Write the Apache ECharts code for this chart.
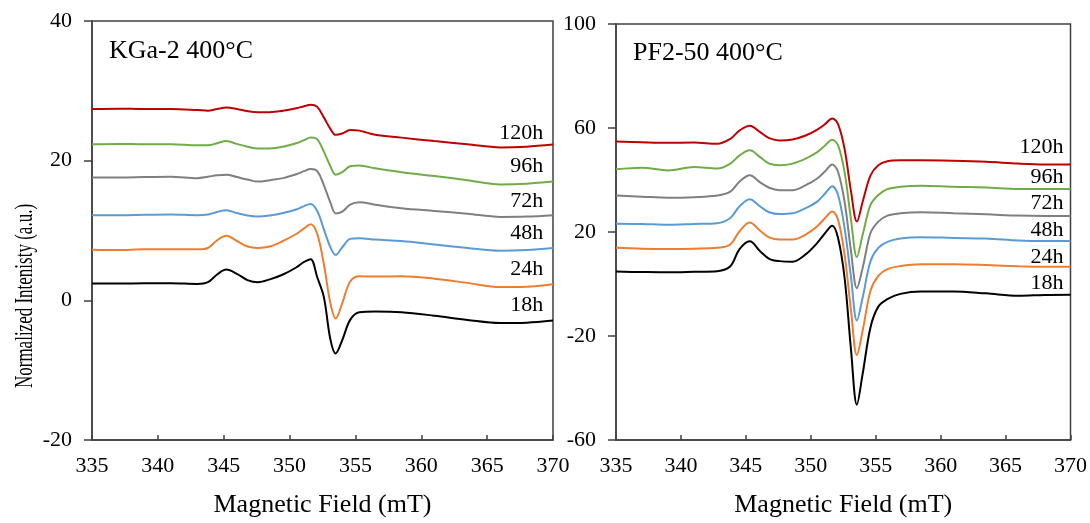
<!DOCTYPE html>
<html>
<head>
<meta charset="utf-8">
<script src="https://cdn.jsdelivr.net/npm/echarts@6/dist/echarts.min.js"></script>
<style>
  html, body { margin: 0; padding: 0; background: #fff; }
  #main { width: 1090px; height: 523px; }
</style>
</head>
<body>
<div id="main"></div>
<script>
// magnetic field (mT) sample points
var fieldL = [335, 337, 339, 341, 343, 343.8, 344.5, 345.2, 346, 346.8, 347.6, 348.5, 349.5, 350.5, 351.1, 351.6,
              352.1, 352.6, 353.1, 353.5, 354, 354.6, 355.3, 356.5, 358.5, 361, 363.5, 366, 368, 370];
var fieldR = [335, 337, 339, 341, 342.8, 343.8, 344.5, 345.3, 346.1, 346.8, 347.6, 348.6, 349.6, 350.5, 351.1, 351.65,
              352.1, 352.6, 353.1, 353.55, 354, 354.6, 355.2, 355.9, 356.9, 358.5, 361, 363.5, 366, 368, 370];

var times = ['18h', '24h', '48h', '72h', '96h', '120h'];

// KGa-2 400°C
var kga18  = [2.4, 2.4, 2.45, 2.45, 2.35, 2.6, 3.7, 4.4, 3.8, 2.9, 2.6, 3.0, 3.7, 4.7, 5.5, 5.9,
              3.3, 0.5, -5.6, -7.6, -5.7, -2.8, -1.7, -1.6, -1.7, -2.2, -2.8, -3.25, -3.2, -2.9];
var kga24  = [7.25, 7.2, 7.3, 7.3, 7.3, 7.5, 8.6, 9.25, 8.5, 7.7, 7.5, 7.7, 8.5, 9.5, 10.3, 10.9,
              9.5, 5.2, -0.4, -2.6, -0.4, 2.7, 3.45, 3.4, 3.45, 3.1, 2.5, 1.9, 1.95, 2.3];
var kga48  = [12.2, 12.2, 12.25, 12.3, 12.2, 12.3, 12.65, 12.9, 12.5, 12.15, 12.0, 12.15, 12.5, 13.0, 13.5, 13.8,
              12.8, 10.2, 7.6, 6.5, 7.6, 8.8, 8.9, 8.7, 8.5, 8.0, 7.5, 7.1, 7.2, 7.5];
var kga72  = [17.6, 17.6, 17.65, 17.7, 17.5, 17.7, 17.9, 18.0, 17.65, 17.3, 17.0, 17.2, 17.5, 18.05, 18.5, 18.8,
              18.5, 16.5, 14.0, 12.45, 12.7, 13.7, 14.05, 13.7, 13.2, 12.8, 12.4, 11.95, 12.0, 12.2];
var kga96  = [22.35, 22.4, 22.35, 22.35, 22.2, 22.2, 22.5, 22.8, 22.4, 22.0, 21.75, 21.75, 22.0, 22.5, 22.95, 23.3,
              23.05, 21.3, 19.2, 18.0, 18.35, 19.2, 19.3, 18.9, 18.35, 17.8, 17.2, 16.6, 16.7, 17.0];
var kga120 = [27.4, 27.45, 27.4, 27.4, 27.25, 27.15, 27.4, 27.6, 27.4, 27.1, 26.95, 26.95, 27.15, 27.5, 27.8, 28.0,
              27.7, 26.2, 24.55, 23.7, 23.9, 24.4, 24.3, 23.7, 23.3, 22.8, 22.35, 21.9, 22.0, 22.3];

// PF2-50 400°C
var pf18  = [4.76, 4.6, 4.5, 4.7, 4.95, 6.8, 13.3, 16.4, 12.6, 9.7, 8.8, 8.6, 11.4, 15.8, 19.6, 22.4,
             17.7, 2.5, -25.4, -46.4, -34.4, -16.6, -8.7, -5.8, -3.8, -2.9, -2.9, -3.6, -4.5, -4.2, -4.1];
var pf24  = [13.9, 13.6, 13.5, 13.6, 13.9, 15.2, 20.2, 23.7, 20.5, 17.9, 17.1, 17.1, 19.0, 22.2, 25.4, 27.9,
             24.7, 11.4, -10.2, -27.3, -17.8, -2.6, 3.1, 5.7, 6.9, 7.6, 7.6, 7.3, 6.8, 6.6, 6.6];
var pf48  = [23.2, 23.1, 22.8, 23.1, 23.4, 25.4, 29.8, 32.6, 29.8, 27.6, 26.9, 27.2, 29.2, 31.7, 34.8, 37.6,
             34.2, 21.5, 2.5, -14.0, -5.1, 8.8, 13.9, 16.2, 17.5, 18.0, 17.7, 17.5, 16.7, 16.5, 16.5];
var pf72  = [34.0, 33.6, 33.2, 33.4, 34.0, 35.5, 39.3, 41.8, 39.1, 37.0, 36.1, 36.1, 38.0, 40.6, 43.4, 46.0,
             43.1, 31.7, 12.6, -1.6, 6.3, 19.6, 24.0, 26.3, 27.2, 27.6, 27.2, 26.8, 26.3, 26.2, 26.2];
var pf96  = [44.1, 44.7, 43.7, 45.0, 44.4, 46.3, 49.4, 51.4, 48.8, 46.3, 45.7, 46.3, 48.2, 50.7, 53.3, 55.5,
             53.3, 43.1, 24.7, 10.4, 19.0, 30.4, 34.2, 36.5, 37.4, 37.8, 37.4, 37.1, 36.5, 36.5, 36.5];
var pf120 = [54.8, 54.5, 54.3, 54.4, 53.9, 55.8, 59.0, 60.9, 58.4, 56.1, 55.2, 55.6, 57.1, 59.4, 61.5, 63.7,
             61.5, 52.0, 35.5, 24.0, 31.7, 41.8, 45.7, 47.2, 47.6, 47.6, 47.4, 47.0, 46.3, 46.0, 46.0];

// tick labels
var xTicks = [335, 340, 345, 350, 355, 360, 365, 370];
var yTicksL = [-20, 0, 20, 40];
var yTicksR = [-60, -20, 20, 60, 100];

// where the time labels sit (data coords)
var labelXL = 369.3, labelYL = [-0.65, 4.4, 9.6, 14.2, 19.2, 24.0];
var labelXR = 369.5, labelYR = [0.3, 10.4, 20.6, 31.0, 41.2, 52.6];

var colors = ['#000000', '#ED7D31', '#5B9BD5', '#7F7F7F', '#70AD47', '#C00000'];
var FONT = 'Liberation Serif';
var AXIS = '#404040';

function pairs(xs, ys) {
    var out = [];
    for (var i = 0; i < xs.length; i++) out.push([xs[i], ys[i]]);
    return out;
}

function makeSeries(idx, xs, sets, lx, ly) {
    var list = [];
    for (var i = 0; i < sets.length; i++) {
        list.push({
            name: times[i],
            type: 'line',
            xAxisIndex: idx,
            yAxisIndex: idx,
            data: pairs(xs, sets[i]),
            smooth: 0.35,
            showSymbol: false,
            symbol: 'none',
            lineStyle: { color: colors[i], width: 2 },
            itemStyle: { color: colors[i] },
            z: 3 + i,
            markPoint: {
                symbol: 'circle',
                symbolSize: 1,
                itemStyle: { color: 'rgba(0,0,0,0)' },
                label: {
                    show: true,
                    position: 'left',
                    distance: 0,
                    formatter: '{b}',
                    fontFamily: FONT,
                    fontSize: 22,
                    color: '#000'
                },
                data: [{ name: times[i], coord: [lx, ly[i]] }]
            }
        });
    }
    return list;
}

var chart = echarts.init(document.getElementById('main'));

var xAxisBase = function (gi) {
    return {
        type: 'value',
        gridIndex: gi,
        min: 335, max: 370, interval: 5,
        name: 'Magnetic Field (mT)',
        nameLocation: 'middle',
        nameGap: 52,
        nameTextStyle: { fontFamily: FONT, fontSize: 26, color: '#000' },
        axisLine: { show: true, onZero: false, lineStyle: { color: AXIS, width: 1.5 } },
        axisTick: { show: true, inside: true, length: 5, lineStyle: { color: AXIS, width: 1.5 } },
        axisLabel: {
            margin: 15, fontFamily: FONT, fontSize: 22, color: '#000',
            customValues: xTicks
        },
        splitLine: { show: false }
    };
};

var yAxisBase = function (gi, mn, mx, step, ticks) {
    return {
        type: 'value',
        gridIndex: gi,
        min: mn, max: mx, interval: step,
        axisLine: { show: true, onZero: false, lineStyle: { color: AXIS, width: 1.5 } },
        axisTick: { show: true, inside: false, length: 8, lineStyle: { color: AXIS, width: 1.5 }, customValues: ticks },
        axisLabel: { margin: 20, fontFamily: FONT, fontSize: 22, color: '#000', customValues: ticks },
        splitLine: { show: false }
    };
};

var option = {
    backgroundColor: '#fff',
    animation: false,
    title: [
        { text: 'KGa-2 400°C', left: 104, top: 33,
          textStyle: { fontFamily: FONT, fontSize: 26, fontWeight: 'normal', color: '#000' } },
        { text: 'PF2-50 400°C', left: 628, top: 35,
          textStyle: { fontFamily: FONT, fontSize: 26, fontWeight: 'normal', color: '#000' } }
    ],
    grid: [
        { left: 92, top: 21, width: 461, height: 424, show: true, borderColor: AXIS, borderWidth: 1.5 },
        { left: 616, top: 24, width: 455, height: 420, show: true, borderColor: AXIS, borderWidth: 1.5 }
    ],
    xAxis: [xAxisBase(0), xAxisBase(1)],
    yAxis: [
        yAxisBase(0, -20, 40, 20, yTicksL),
        yAxisBase(1, -60, 100, 40, yTicksR)
    ],
    // y axis title, squeezed along its length like the original
    graphic: [{
        type: 'text',
        x: 25, y: 296,
        rotation: Math.PI / 2,
        scaleX: 0.68,
        style: {
            text: 'Normalized Intenisty (a.u.)',
            fontFamily: FONT, fontSize: 25, fill: '#000',
            textAlign: 'center', textVerticalAlign: 'middle'
        }
    }],
    series: [].concat(
        makeSeries(0, fieldL, [kga18, kga24, kga48, kga72, kga96, kga120], labelXL, labelYL),
        makeSeries(1, fieldR, [pf18, pf24, pf48, pf72, pf96, pf120], labelXR, labelYR)
    )
};

chart.setOption(option);

window.onresize = function () {
    chart.resize();
};
</script>
</body>
</html>
